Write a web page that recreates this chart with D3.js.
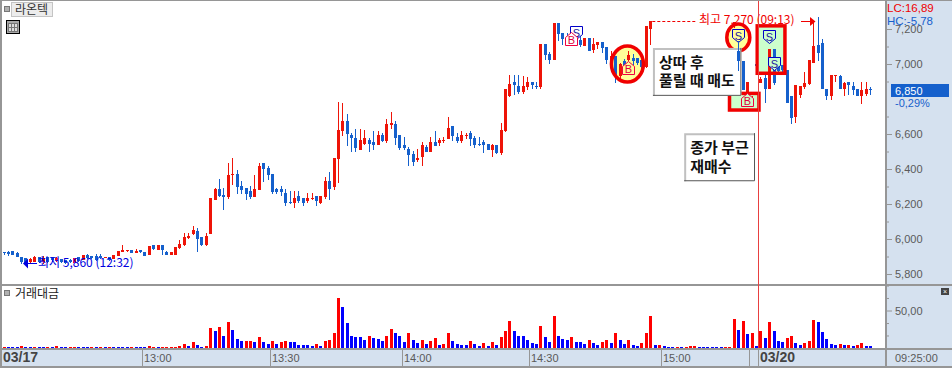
<!DOCTYPE html>
<html><head><meta charset="utf-8">
<script src="https://cdnjs.cloudflare.com/ajax/libs/d3/7.8.5/d3.min.js"></script>
<style>html,body{margin:0;padding:0;background:#fff;overflow:hidden}svg{display:block}text{font-family:"Liberation Sans",Arial,sans-serif}.kr{font-family:"Noto Sans CJK KR","Noto Sans",sans-serif}</style>
</head><body><svg id="c" width="952" height="368"></svg>
<script>
const opens=[5925,5925,5930,5920,5900,5890,5870,5870,5895,5870,
5895,5895,5875,5885,5880,5880,5865,5895,5880,5910,
5905,5905,5905,5890,5895,5885,5905,5925,5935,5940,
5920,5940,5925,5910,5965,5940,5965,5925,5910,5910,
5950,5965,6005,6030,6045,6010,5965,6030,6225,6285,
6250,6240,6365,6370,6305,6290,6275,6240,6280,6435,
6405,6370,6285,6285,6265,6210,6205,6245,6235,6215,
6230,6245,6205,6240,6330,6295,6460,6615,6675,6595,
6575,6510,6545,6565,6555,6535,6595,6560,6650,6655,
6595,6535,6515,6485,6450,6470,6525,6495,6555,6550,
6560,6570,6645,6585,6560,6590,6605,6580,6545,6555,
6545,6510,6535,6490,6615,6815,6895,6875,6840,6870,
6895,6875,6870,7115,7055,7025,7235,7175,7150,7140,
7135,7135,7105,7150,7080,7110,7125,7095,7025,7045,
6930,7020,7025,7035,7035,7025,6985,7200,7080,7050,
7060,7040,7035,7030,7035,7030,7035,7045,7055,7045,
7040,7035,7030,7025,7025,7035,7215,7075,7015,6835,
6770,7000,6890,6920,6860,7085,7000,6995,6965,6815,
6700,6825,6870,6885,7005,7110,7120,6860,6815,6930,
6930,6855,6900,6875,6860,6815,6830,6860];
const highs=[5925,5930,5930,5925,5900,5890,5890,5905,5900,5905,
5900,5900,5895,5885,5880,5885,5890,5895,5910,5915,
5905,5915,5915,5895,5900,5910,5930,5965,5940,5940,
5945,5940,5925,5960,5965,5965,5965,5930,5925,5955,
5995,6035,6035,6075,6065,6010,6035,6235,6290,6345,
6290,6435,6465,6395,6330,6290,6305,6365,6435,6435,
6420,6370,6290,6305,6285,6275,6275,6275,6235,6265,
6265,6245,6245,6355,6385,6465,6785,6775,6715,6605,
6630,6630,6625,6580,6615,6615,6605,6685,6725,6675,
6595,6585,6525,6505,6515,6555,6535,6585,6615,6575,
6585,6695,6645,6605,6615,6605,6615,6590,6585,6565,
6545,6545,6535,6665,6860,6935,6935,6935,6930,6925,
6900,6900,7115,7115,7070,7235,7235,7175,7175,7175,
7155,7170,7150,7150,7150,7125,7125,7095,7075,7045,
7005,7030,7075,7055,7035,7025,7220,7245,7085,7070,
7065,7045,7040,7040,7035,7040,7050,7060,7055,7045,
7040,7040,7035,7030,7040,7050,7240,7130,7015,6900,
6820,7010,6925,6935,7085,7085,7020,6995,6965,6815,
6880,6875,6955,7025,7245,7270,7145,6860,6940,6935,
6935,6900,6900,6900,6860,6900,6900,6870];
const lows=[5910,5905,5910,5895,5860,5860,5865,5870,5865,5860,
5865,5870,5870,5865,5860,5865,5865,5870,5880,5885,
5885,5875,5885,5890,5875,5885,5905,5925,5925,5920,
5920,5920,5905,5910,5940,5940,5910,5910,5910,5910,
5945,5960,6000,6025,5925,5960,5960,6030,6220,6240,
6165,6230,6310,6255,6255,6220,6230,6240,6280,6325,
6335,6255,6255,6245,6190,6200,6180,6205,6190,6205,
6220,6190,6200,6230,6220,6280,6320,6590,6530,6500,
6500,6510,6535,6495,6510,6535,6555,6550,6630,6535,
6510,6510,6415,6415,6440,6415,6495,6495,6530,6530,
6550,6570,6560,6550,6550,6570,6530,6520,6530,6490,
6510,6470,6485,6480,6610,6810,6825,6830,6830,6850,
6855,6855,6855,7025,7000,7025,7130,7110,7110,7110,
7100,7095,7100,7075,7065,7085,7065,7000,6995,6890,
6910,6980,7015,6995,6995,6955,6980,7110,7040,7040,
7030,7030,7030,7030,7025,7030,7030,7040,7040,7035,
7030,7030,7025,7020,7025,7030,7205,6960,6850,6830,
6770,6985,6890,6775,6860,6880,6950,6945,6775,6655,
6665,6805,6860,6880,7005,7015,6855,6795,6795,6900,
6855,6815,6825,6825,6815,6770,6815,6825];
const closes=[5920,5915,5910,5900,5870,5860,5885,5900,5870,5890,
5870,5880,5890,5870,5865,5870,5890,5875,5910,5890,
5890,5880,5890,5895,5880,5910,5930,5940,5940,5920,
5930,5925,5905,5960,5945,5965,5940,5910,5925,5955,
5970,6010,6020,6050,6000,5965,6020,6235,6285,6245,
6240,6365,6370,6295,6280,6255,6240,6285,6420,6400,
6365,6270,6270,6270,6205,6205,6235,6215,6205,6235,
6235,6215,6245,6330,6285,6465,6625,6675,6600,6580,
6520,6565,6575,6545,6535,6595,6560,6655,6660,6575,
6520,6520,6480,6440,6465,6535,6495,6555,6530,6565,
6565,6635,6590,6560,6595,6595,6570,6535,6535,6535,
6510,6535,6490,6625,6855,6885,6880,6840,6875,6895,
6880,6870,7115,7050,7025,7235,7170,7145,7125,7120,
7110,7110,7150,7075,7115,7125,7090,7025,7045,6935,
7000,6990,7050,7020,7005,6985,7215,7245,7050,7060,
7040,7035,7030,7035,7030,7035,7045,7055,7045,7040,
7035,7030,7025,7020,7035,7045,7240,7015,6850,6900,
6800,6990,6915,6860,7085,6890,6960,6965,6775,6690,
6880,6875,6890,7025,7100,7065,6855,6815,6935,6935,
6855,6890,6880,6850,6815,6850,6860,6850];
const volumes=[1.3,1.3,1.3,1.3,2.7,1.3,1.3,1.3,1.3,1.3,
1.3,1.3,2.7,1.3,1.3,1.3,1.3,1.3,1.3,1.3,
1.3,1.3,1.3,1.3,1.3,1.3,1.3,1.3,1.3,1.3,
1.3,1.3,1.3,2.7,1.3,1.3,1.3,1.3,1.3,1.3,
2.7,5.3,2.7,8,4,1.3,2.7,27,23,28,
16,35,24,12,9,9,9,8,15,8,
5.3,9,5.3,8,9,8,8,4,4,4,
2.7,5.3,2.7,9,10.7,20,67,55,33,16,
15,15,10.7,16,13,12,9,16,25,20,
16,8,20,11,7,11,5,9,13,4,
5,20,9,5,4,4,9,5,3,7,
3,8,4,15,23,36,23,16,16,11,
7,5,29,15,8,43,16,12,11,15,
8,8,5,11,7,4,8,11,7,20,
11,5,11,4,3,7,20,43,4,4,
3,1.3,1.3,1.3,1.3,1.3,2.7,2.7,1.3,1.3,
1.3,1.3,1.3,1.3,1.3,1.3,39,24,36,19,
20,3,23,13,35,23,9,8,13,16,
7,4,7,9,37,35,21,12,5,4,
5,4,4,3,4,7,3,3];
const volumeUp=[1,0,0,0,1,0,0,1,0,0,
1,0,1,0,0,1,1,0,0,0,
1,0,1,0,1,0,0,0,0,1,
0,0,0,1,1,0,1,1,1,1,
1,1,0,1,0,0,1,1,0,1,
0,1,0,0,0,1,1,0,1,0,
0,1,0,1,1,0,0,0,0,0,
0,1,0,1,1,1,1,0,0,0,
0,0,0,1,0,0,0,1,1,0,
0,0,1,0,0,1,0,1,1,0,
1,1,0,0,0,0,1,0,0,1,
0,1,0,1,1,1,0,0,0,0,
0,0,1,0,0,1,0,0,0,1,
0,0,0,1,0,0,1,1,0,1,
0,0,1,0,0,1,1,1,0,1,
0,0,0,1,0,1,1,1,0,0,
0,0,0,0,1,1,1,0,1,0,
1,0,1,0,1,0,0,0,1,1,
0,0,1,1,1,0,0,0,0,0,
1,0,1,0,1,1,0,0];
const priceTicks=[7200,7000,6600,6400,6200,6000,5800];
const priceMinor=[7100,6900,6700,6500,6300,6100,5900];
const volumeTicks=[50];
const volumeMinor=[0,16.7,33.3,66.7,83.3];
const timeIndex=[32,61,91,120,150,170,172];
const timeLabels=["13:00","13:30","14:00","14:30","15:00","","03/20"];
const signals=[
 {t:"S",i:130,p:7143,fill:"#ffffff"},{t:"B",i:129,p:7183,fill:"#ffffff"},
 {t:"B",i:142,p:7017,fill:"#ffff99"},{t:"S",i:167,p:7126,fill:"#ffff99"},
 {t:"S",i:174,p:7120,fill:"#ccffcc"},{t:"S",i:175,p:6966,fill:"#ccffcc"},
 {t:"B",i:169,p:6834,fill:"#ccffcc"}];
const rectNotes=[{i0:171.3,i1:177.6,p0:7218,p1:6947},{i0:165,i1:171.7,p0:6832,p1:6737}];
const circleNotes=[{i:141.8,p:7000,rx:16,ry:18},{i:167,p:7152,rx:11.5,ry:13.5}];
const callouts=[{lines:["상따 후","풀릴 때 매도"],i0:147.6,i1:167.7,p0:7092,p1:6818},{lines:["종가 부근","재매수"],i0:154.7,i1:170.8,p0:6605,p1:6330}];

const AX="#d5e1ef",GR="#969696",RED="#ee1408",BLU="#1560cc",TXT="#5a5a5a";
const svg=d3.select("#c");
const x=d3.scaleLinear().domain([0,197]).range([3.5,870.3]);
const y=d3.scaleLinear().domain([7200,5800]).range([29,274]);
const yv=d3.scaleLinear().domain([0,50]).range([348,310.5]);
const idx=d3.range(opens.length);
const px=v=>Math.round(v);

// axis backgrounds
svg.append("rect").attr("x",886).attr("y",0).attr("width",66).attr("height",368).attr("fill",AX);
svg.append("rect").attr("x",0).attr("y",349).attr("width",952).attr("height",19).attr("fill",AX);

// note fills
svg.append("g").selectAll("rect").data(rectNotes).join("rect")
 .attr("x",d=>x(d.i0)).attr("y",d=>y(d.p0)).attr("width",d=>x(d.i1)-x(d.i0)).attr("height",d=>y(d.p1)-y(d.p0)).attr("fill","#ccffcc");
svg.append("g").selectAll("ellipse").data(circleNotes).join("ellipse")
 .attr("cx",d=>x(d.i)).attr("cy",d=>y(d.p)).attr("rx",d=>d.rx).attr("ry",d=>d.ry).attr("fill","#ffff99");

function candles(parent,data){
 const g=parent.append("g").attr("shape-rendering","crispEdges");
 const col=i=>closes[i]>=opens[i]?RED:BLU;
 g.selectAll("rect.w").data(data).join("rect").attr("class","w")
  .attr("x",i=>px(x(i))).attr("width",1).attr("y",i=>px(y(highs[i])))
  .attr("height",i=>Math.max(1,px(y(lows[i]))-px(y(highs[i])))).attr("fill",col);
 g.selectAll("rect.b").data(data).join("rect").attr("class","b")
  .attr("x",i=>px(x(i))-1).attr("width",3).attr("y",i=>px(y(Math.max(opens[i],closes[i]))))
  .attr("height",i=>Math.max(1,px(y(Math.min(opens[i],closes[i])))-px(y(Math.max(opens[i],closes[i]))))).attr("fill",col);
}
candles(svg,idx.filter(i=>i!==167));

// note outlines
svg.append("g").selectAll("rect").data(rectNotes).join("rect")
 .attr("x",d=>x(d.i0)).attr("y",d=>y(d.p0)).attr("width",d=>x(d.i1)-x(d.i0)).attr("height",d=>y(d.p1)-y(d.p0)).attr("fill","none").attr("stroke","#f00000").attr("stroke-width",3.5);
svg.append("g").selectAll("ellipse").data(circleNotes).join("ellipse")
 .attr("cx",d=>x(d.i)).attr("cy",d=>y(d.p)).attr("rx",d=>d.rx).attr("ry",d=>d.ry).attr("fill","none").attr("stroke","#f00000").attr("stroke-width",3.5);

// signal markers
const sg=svg.append("g");
signals.forEach(s=>{
 const X=x(s.i),Y=y(s.p),isS=s.t==="S";
 const c=isS?"#0000c8":"#f00040",g=sg.append("g").attr("transform",`translate(${px(X)+.5},${px(Y)+.5})`);
 const path=isS?"M0,0 L-6,-5 V-13 H6 V-5 Z":"M0,0 L6,5 V13 H-6 V5 Z";
 g.append("path").attr("d",path).attr("fill",s.fill).attr("stroke",c).attr("stroke-width",1);
 g.append("text").attr("x",0).attr("y",isS?-3:11.5).attr("text-anchor","middle").attr("font-size",11).attr("fill",isS?"#2020a0":"#e00040").text(s.t);
});

// callouts
callouts.forEach(c=>{
 const X0=x(c.i0),X1=x(c.i1),Y0=y(c.p0),Y1=y(c.p1);
 const g=svg.append("g");
 g.append("rect").attr("x",X0).attr("y",Y0).attr("width",X1-X0).attr("height",Y1-Y0).attr("fill","#fff");
 g.append("path").attr("d",`M${X0+1},${Y1} V${Y0+1} H${X1}`).attr("fill","none").attr("stroke","#c0c0c0").attr("stroke-width",2);
 g.append("path").attr("d",`M${X0},${Y1-.5} H${X1-.5} V${Y0}`).attr("fill","none").attr("stroke","#555").attr("stroke-width",1);
 c.lines.forEach((t,k)=>g.append("text").attr("class","kr").attr("x",X0+6).attr("y",Y0+20+k*18.5).attr("font-size",15).attr("font-weight",700).attr("fill","#111").text(t));
});
candles(svg,[167]);

// high / low labels
const hiY=21;
svg.append("line").attr("x1",x(147)+2).attr("x2",697).attr("y1",hiY+.5).attr("y2",hiY+.5).attr("stroke","#f00000").attr("stroke-dasharray","3,2");
svg.append("text").attr("class","kr").attr("x",699).attr("y",24).attr("font-size",12).attr("fill","#f00000").text("최고 7,270 (09:13)");
svg.append("line").attr("x1",801).attr("x2",811).attr("y1",hiY+.5).attr("y2",hiY+.5).attr("stroke","#f00000");
svg.append("path").attr("d",`M810,${hiY-4} L815.5,${hiY+.5} L810,${hiY+5} Z`).attr("fill","#f00000");
svg.append("text").attr("class","kr").attr("x",38).attr("y",267).attr("font-size",12).attr("fill","#0000e0").text("최저 5,860 (12:32)");
svg.append("line").attr("x1",27).attr("x2",37).attr("y1",263.5).attr("y2",263.5).attr("stroke","#0000e0");
svg.append("path").attr("d","M23,263.5 L28,258.5 L28,268.5 Z").attr("fill","#0000e0");

// volume
svg.append("g").attr("shape-rendering","crispEdges").selectAll("rect").data(idx).join("rect")
 .attr("x",i=>px(x(i))-1).attr("width",3).attr("y",i=>px(yv(volumes[i])))
 .attr("height",i=>348-px(yv(volumes[i]))).attr("fill",i=>volumeUp[i]?"#ff0000":"#0000ff");

// frame lines
const frame=svg.append("g").attr("shape-rendering","crispEdges");
[[0,0,952,0,2],[0,284.5,952,284.5,2],[0,348.5,952,348.5,2],[0,367,952,367,2],[1,0,1,368,2],[886,0,886,368,2]].forEach(l=>
 frame.append("line").attr("x1",l[0]).attr("y1",l[1]).attr("x2",l[2]).attr("y2",l[3]).attr("stroke",GR).attr("stroke-width",l[4]));

// crosshair
svg.append("line").attr("x1",758.5).attr("x2",758.5).attr("y1",1).attr("y2",348).attr("stroke","#e84040").attr("stroke-width",1).attr("shape-rendering","crispEdges");

// price axis
const pa=svg.append("g").attr("transform","translate(886,0)").call(d3.axisRight(y).tickValues(priceTicks).tickSize(6).tickPadding(3).tickFormat(d3.format(",")));
pa.select(".domain").remove();
pa.selectAll("line").attr("stroke",GR);
pa.selectAll("text").attr("font-size",11).attr("font-family","Liberation Sans").attr("fill",TXT);
const pm=svg.append("g").attr("transform","translate(886,0)").call(d3.axisRight(y).tickValues(priceMinor).tickSize(3).tickFormat(""));
pm.select(".domain").remove();pm.selectAll("line").attr("stroke",GR);

// volume axis
const va=svg.append("g").attr("transform","translate(886,0)").call(d3.axisRight(yv).tickValues(volumeTicks).tickSize(6).tickPadding(3).tickFormat(d=>d+",00"));
va.select(".domain").remove();va.selectAll("line").attr("stroke",GR);
va.selectAll("text").attr("font-size",11).attr("font-family","Liberation Sans").attr("fill",TXT);
const vm=svg.append("g").attr("transform","translate(886,0)").call(d3.axisRight(yv).tickValues(volumeMinor).tickSize(3).tickFormat(""));
vm.select(".domain").remove();vm.selectAll("line").attr("stroke",GR);

// time axis
const ta=svg.append("g");
timeIndex.forEach((ti,k)=>{
 const X=px(x(ti)-2.2)+.5;
 ta.append("line").attr("x1",X).attr("x2",X).attr("y1",349).attr("y2",367).attr("stroke",GR).attr("shape-rendering","crispEdges");
 const bold=timeLabels[k].includes("/");
 ta.append("text").attr("x",X+1.5).attr("y",362).attr("font-size",bold?14:11).attr("font-weight",bold?700:400).attr("fill",bold?"#444":TXT).text(timeLabels[k]);
});
ta.append("text").attr("x",3).attr("y",362).attr("font-size",14).attr("font-weight",700).attr("fill","#444").text("03/17");
ta.append("text").attr("x",895).attr("y",362).attr("font-size",11).attr("fill",TXT).text("09:25:00");

// price tag
svg.append("rect").attr("x",891).attr("y",84).attr("width",58).attr("height",13).attr("fill",BLU);
svg.append("text").attr("x",895).attr("y",94.5).attr("font-size",11).attr("fill","#fff").text("6,850");
svg.append("text").attr("x",895).attr("y",107).attr("font-size",11).attr("fill",BLU).text("-0,29%");
svg.append("text").attr("x",887).attr("y",12).attr("font-size",11.5).attr("fill","#f00000").text("LC:16,89");
svg.append("text").attr("x",887).attr("y",24.5).attr("font-size",11.5).attr("fill",BLU).text("HC:-5,78");

// title tags
svg.append("rect").attr("x",4.5).attr("y",6.5).attr("width",5).attr("height",5).attr("fill","#b0b0b0").attr("stroke","#777");
svg.append("rect").attr("x",11.5).attr("y",2.5).attr("width",41).attr("height",14).attr("fill","#ececec").attr("stroke","#c4c4c4");
svg.append("text").attr("class","kr").attr("x",15).attr("y",14).attr("font-size",12).attr("fill","#333").text("라온텍");
svg.append("rect").attr("x",6.5).attr("y",20.5).attr("width",13).attr("height",13).attr("fill","#a8a8a8").attr("stroke","#000");
svg.append("rect").attr("x",8.5).attr("y",23.5).attr("width",9).attr("height",8).attr("fill","#ddd").attr("stroke","#777");
[11.5,14.5].forEach(a=>svg.append("line").attr("x1",a).attr("x2",a).attr("y1",23).attr("y2",32).attr("stroke","#777"));
svg.append("line").attr("x1",8).attr("x2",18).attr("y1",27.5).attr("y2",27.5).attr("stroke","#777");
svg.append("rect").attr("x",4.5).attr("y",290.5).attr("width",5).attr("height",5).attr("fill","#b0b0b0").attr("stroke","#777");
svg.append("text").attr("class","kr").attr("x",15).attr("y",298).attr("font-size",12).attr("fill","#222").text("거래대금");
svg.append("rect").attr("x",941).attr("y",288).attr("width",8).attr("height",7).attr("fill","#444");
svg.append("text").attr("x",945).attr("y",294).attr("text-anchor","middle").attr("font-size",7).attr("fill","#fff").text("×");
</script></body></html>
